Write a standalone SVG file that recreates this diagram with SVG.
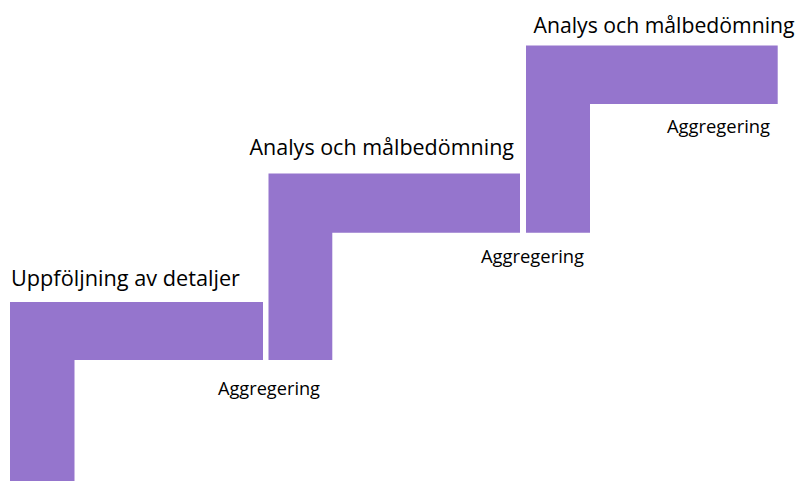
<svg xmlns="http://www.w3.org/2000/svg" width="801" height="481" viewBox="0 0 801 481">
<style>
.step{fill:#9575CD}
.big{font-family:"Open Sans","Liberation Sans",sans-serif;font-size:22px;fill:#000}
.small{font-family:"Open Sans","Liberation Sans",sans-serif;font-size:18px;fill:#000}
</style>
<rect width="801" height="481" fill="#fff"/>
<g id="step1">
<path class="step" d="M10,302 H263 V360 H74.5 V481 H10 Z"/>
<text class="big" x="11" y="286" textLength="229" lengthAdjust="spacingAndGlyphs">Uppföljning av detaljer</text>
</g>
<g id="step2">
<path class="step" d="M268.5,173.5 H520 V232.7 H332.3 V360 H268.5 Z"/>
<text class="big" x="249.5" y="155" textLength="264.5" lengthAdjust="spacingAndGlyphs">Analys och målbedömning</text>
</g>
<g id="step3">
<path class="step" d="M526,45.5 H777.7 V104 H590 V232.7 H526 Z"/>
<text class="big" x="533.5" y="33.3" textLength="261" lengthAdjust="spacingAndGlyphs">Analys och målbedömning</text>
</g>
<g id="labels">
<text class="small" x="218" y="395" textLength="102" lengthAdjust="spacingAndGlyphs">Aggregering</text>
<text class="small" x="481" y="263.3" textLength="103" lengthAdjust="spacingAndGlyphs">Aggregering</text>
<text class="small" x="667" y="133.3" textLength="103" lengthAdjust="spacingAndGlyphs">Aggregering</text>
</g>
</svg>
